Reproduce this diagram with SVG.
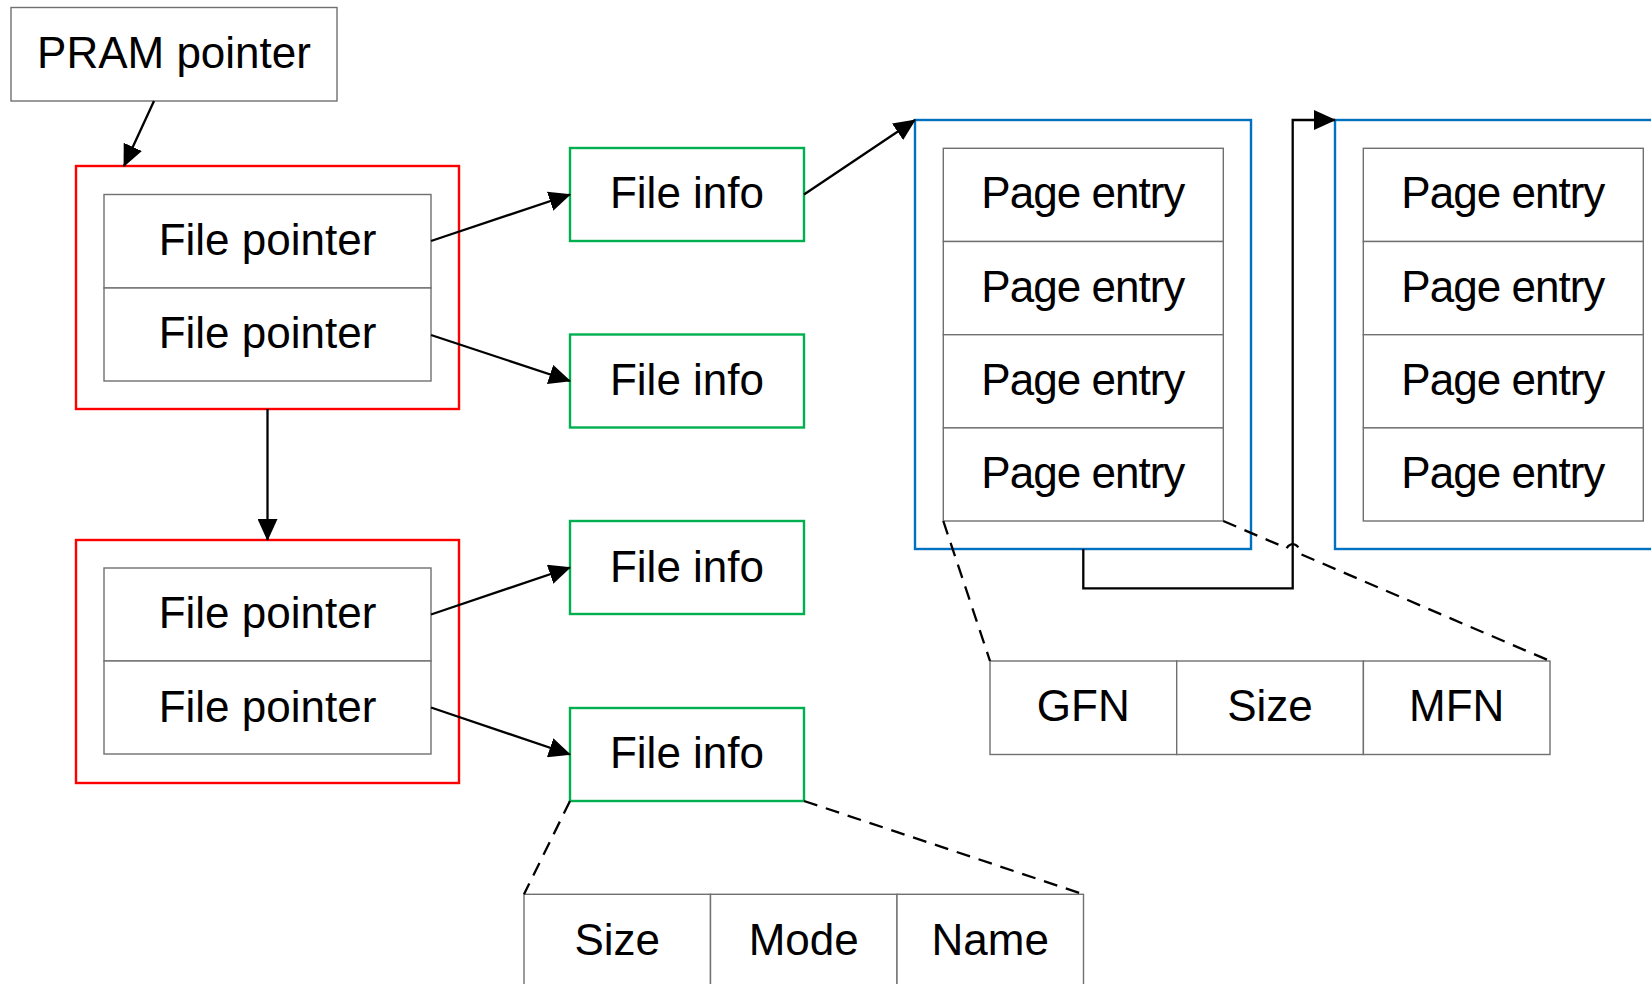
<svg xmlns="http://www.w3.org/2000/svg" width="1651" height="984" viewBox="0 0 1651 984">
<style>
.box{fill:#fff;stroke:#707070;stroke-width:1.4}
.red{fill:#fff;stroke:#ff0000;stroke-width:2.4}
.green{fill:#fff;stroke:#00b050;stroke-width:2.4}
.blue{fill:#fff;stroke:#0070c0;stroke-width:2.4}
.t{font-family:"Liberation Sans",Arial,sans-serif;font-size:44px;text-anchor:middle;fill:#000}
.c{stroke:#000;stroke-width:2.3;fill:none}
.d{stroke:#000;stroke-width:2.3;fill:none;stroke-dasharray:14 9}
</style>
<defs>
<marker id="ah" viewBox="0 0 22 20" refX="21" refY="10" markerWidth="22" markerHeight="20" markerUnits="userSpaceOnUse" orient="auto">
<path d="M0,0 L22,10 L0,20 z" fill="#000"/>
</marker>
</defs>
<rect width="1651" height="984" fill="#fff"/>

<g id="pram">
<rect class="box" x="11" y="7.5" width="326" height="93.5"/>
<text class="t" x="174" y="68">PRAM pointer</text>
</g>

<g id="fp-block1">
<rect class="red" x="76" y="166" width="383" height="243"/>
<rect class="box" x="104" y="194.5" width="327" height="93.5"/>
<rect class="box" x="104" y="288" width="327" height="93"/>
<text class="t" x="267.5" y="255">File pointer</text>
<text class="t" x="267.5" y="348">File pointer</text>
</g>

<g id="fp-block2">
<rect class="red" x="76" y="540" width="383" height="243"/>
<rect class="box" x="104" y="568" width="327" height="93"/>
<rect class="box" x="104" y="661" width="327" height="93"/>
<text class="t" x="267.5" y="628">File pointer</text>
<text class="t" x="267.5" y="722">File pointer</text>
</g>

<g id="fileinfo1">
<rect class="green" x="570" y="148" width="234" height="93"/>
<text class="t" x="687" y="208">File info</text>
</g>
<g id="fileinfo2">
<rect class="green" x="570" y="334.5" width="234" height="93"/>
<text class="t" x="687" y="395">File info</text>
</g>
<g id="fileinfo3">
<rect class="green" x="570" y="521" width="234" height="93"/>
<text class="t" x="687" y="581.5">File info</text>
</g>
<g id="fileinfo4">
<rect class="green" x="570" y="708" width="234" height="93"/>
<text class="t" x="687" y="768">File info</text>
</g>

<g id="pages1">
<rect class="blue" x="915" y="120" width="336" height="429"/>
<rect class="box" x="943.3" y="148.3" width="280" height="93.2"/>
<rect class="box" x="943.3" y="241.5" width="280" height="93.2"/>
<rect class="box" x="943.3" y="334.7" width="280" height="93.2"/>
<rect class="box" x="943.3" y="427.9" width="280" height="93.1"/>
<text class="t" x="1083.3" y="208.3" textLength="204" lengthAdjust="spacing">Page entry</text>
<text class="t" x="1083.3" y="301.5" textLength="204" lengthAdjust="spacing">Page entry</text>
<text class="t" x="1083.3" y="394.7" textLength="204" lengthAdjust="spacing">Page entry</text>
<text class="t" x="1083.3" y="488" textLength="204" lengthAdjust="spacing">Page entry</text>
</g>

<g id="pages2">
<rect class="blue" x="1335" y="120" width="340" height="429"/>
<rect class="box" x="1363.3" y="148.3" width="280" height="93.2"/>
<rect class="box" x="1363.3" y="241.5" width="280" height="93.2"/>
<rect class="box" x="1363.3" y="334.7" width="280" height="93.2"/>
<rect class="box" x="1363.3" y="427.9" width="280" height="93.1"/>
<text class="t" x="1503.3" y="208.3" textLength="204" lengthAdjust="spacing">Page entry</text>
<text class="t" x="1503.3" y="301.5" textLength="204" lengthAdjust="spacing">Page entry</text>
<text class="t" x="1503.3" y="394.7" textLength="204" lengthAdjust="spacing">Page entry</text>
<text class="t" x="1503.3" y="488" textLength="204" lengthAdjust="spacing">Page entry</text>
</g>

<g id="page-entry-fields">
<rect class="box" x="990" y="661" width="186.7" height="93.5"/>
<rect class="box" x="1176.7" y="661" width="186.7" height="93.5"/>
<rect class="box" x="1363.4" y="661" width="186.6" height="93.5"/>
<text class="t" x="1083.3" y="721">GFN</text>
<text class="t" x="1270" y="721">Size</text>
<text class="t" x="1456.7" y="721">MFN</text>
</g>

<g id="file-info-fields">
<rect class="box" x="524" y="894.3" width="186.5" height="93"/>
<rect class="box" x="710.5" y="894.3" width="186.5" height="93"/>
<rect class="box" x="897" y="894.3" width="186.5" height="93"/>
<text class="t" x="617.2" y="955">Size</text>
<text class="t" x="803.7" y="955">Mode</text>
<text class="t" x="990.2" y="955">Name</text>
</g>

<g id="connectors">
<line class="c" x1="154" y1="101" x2="124" y2="166" marker-end="url(#ah)"/>
<line class="c" x1="267.5" y1="409" x2="267.5" y2="540" marker-end="url(#ah)"/>
<line class="c" x1="431" y1="241" x2="570" y2="194.5" marker-end="url(#ah)"/>
<line class="c" x1="431" y1="335" x2="570" y2="381" marker-end="url(#ah)"/>
<line class="c" x1="431" y1="614.5" x2="570" y2="567.5" marker-end="url(#ah)"/>
<line class="c" x1="431" y1="707.5" x2="570" y2="754.5" marker-end="url(#ah)"/>
<line class="c" x1="804" y1="194.5" x2="915" y2="120" marker-end="url(#ah)"/>
<path class="c" d="M1083.3,549 V588.3 H1292.7 V120 H1335" marker-end="url(#ah)"/>
<line class="d" x1="943.3" y1="521" x2="990" y2="661"/>
<path class="d" d="M1223.3,521 L1286.7,548.2 A6.5,6.5 0 0 1 1298.7,553.3 L1550,661"/>
<line class="d" x1="570" y1="801" x2="524" y2="894.3"/>
<line class="d" x1="804" y1="801" x2="1083.5" y2="894.3"/>
</g>
</svg>
